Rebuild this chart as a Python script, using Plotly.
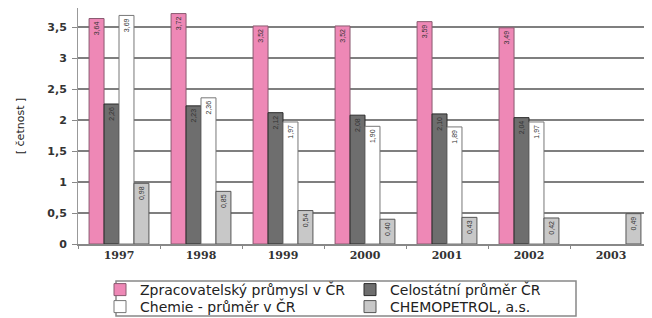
import plotly.graph_objects as go

years = ["1997", "1998", "1999", "2000", "2001", "2002", "2003"]
zpracovatelsky = [3.64, 3.72, 3.52, 3.52, 3.59, 3.49, None]
celostatni = [2.26, 2.23, 2.12, 2.08, 2.10, 2.04, None]
chemie = [3.69, 2.36, 1.97, 1.90, 1.89, 1.97, None]
chemopetrol = [0.98, 0.85, 0.54, 0.40, 0.43, 0.42, 0.49]

series_names = ["Zpracovatelský průmysl v ČR", "Celostátní průměr ČR",
                "Chemie - průměr v ČR", "CHEMOPETROL, a.s."]
series_values = [zpracovatelsky, celostatni, chemie, chemopetrol]
fills = ["#EE88B6", "#6E6E6E", "#FFFFFF", "#C8C8C8"]
lines = ["#8a5a70", "#2a2a2a", "#777777", "#555555"]
legends = ["legend", "legend", "legend2", "legend2"]

def fmt(v):
    return "" if v is None else ("%.2f" % v).replace(".", ",")

fig = go.Figure()
for name, vals, fc, lc, lg in zip(series_names, series_values, fills, lines, legends):
    fig.add_trace(go.Bar(
        x=years, y=vals, name=name,
        marker=dict(color=fc, line=dict(color=lc, width=1)),
        text=[fmt(v) for v in vals],
        textposition="inside", insidetextanchor="end", textangle=-90,
        textfont=dict(size=7, color="#333333", family="Liberation Sans"),
        legend=lg,
    ))

PL, PR, PB = 70, 8, 82
PW = 652 - PL - PR
PH = 318 - PB

def px_x(x):
    return (x - PL) / PW

def px_y(y):
    return (PH - y) / PH

legend_font = dict(size=14, family="DejaVu Sans", color="#222222")

fig.update_layout(
    width=652, height=318,
    margin=dict(l=PL, r=PR, t=0, b=PB, pad=0),
    paper_bgcolor="white", plot_bgcolor="white",
    barmode="group", bargap=0.27, bargroupgap=0,
    separators=", ",
    font=dict(family="DejaVu Sans", size=10, color="#222222"),
    showlegend=True,
    legend=dict(orientation="h", x=px_x(92), xanchor="left", y=px_y(266), yanchor="top",
                entrywidth=205, entrywidthmode="pixels",
                font=legend_font, bgcolor="rgba(0,0,0,0)", borderwidth=0,
                itemwidth=30, tracegroupgap=0),
    legend2=dict(orientation="h", x=px_x(92), xanchor="left", y=px_y(283), yanchor="top",
                 entrywidth=205, entrywidthmode="pixels",
                 font=legend_font, bgcolor="rgba(0,0,0,0)", borderwidth=0,
                 itemwidth=30, tracegroupgap=0),
    shapes=[dict(type="rect", xref="paper", yref="paper",
                 x0=px_x(108), x1=px_x(568), y0=px_y(308), y1=px_y(273),
                 line=dict(color="#888888", width=1.5), fillcolor="rgba(0,0,0,0)")],
)

fig.update_xaxes(
    type="category", showgrid=False, automargin=False,
    showline=True, linecolor="#888888", linewidth=1.5,
    ticks="outside", tickson="boundaries", ticklen=3, tickcolor="#888888",
    tickfont=dict(size=11, family="DejaVu Serif", weight="bold", color="#333333"),
)
fig.update_yaxes(
    range=[0, 3.81], tickvals=[0, 0.5, 1, 1.5, 2, 2.5, 3, 3.5],
    ticktext=["0", "0,5", "1", "1,5", "2", "2,5", "3", "3,5"],
    showgrid=True, gridcolor="#7f7f7f", gridwidth=1.5, automargin=False,
    showline=True, linecolor="#999999", linewidth=1,
    ticks="outside", ticklen=5, tickcolor="#888888", ticklabelstandoff=3,
    tickfont=dict(size=11, family="DejaVu Sans", weight="bold", color="#333333"),
    title=dict(text="[ četnost ]", standoff=20,
               font=dict(size=11, family="DejaVu Sans", color="#222222")),
    zeroline=False,
)

fig.write_html("out.html")
